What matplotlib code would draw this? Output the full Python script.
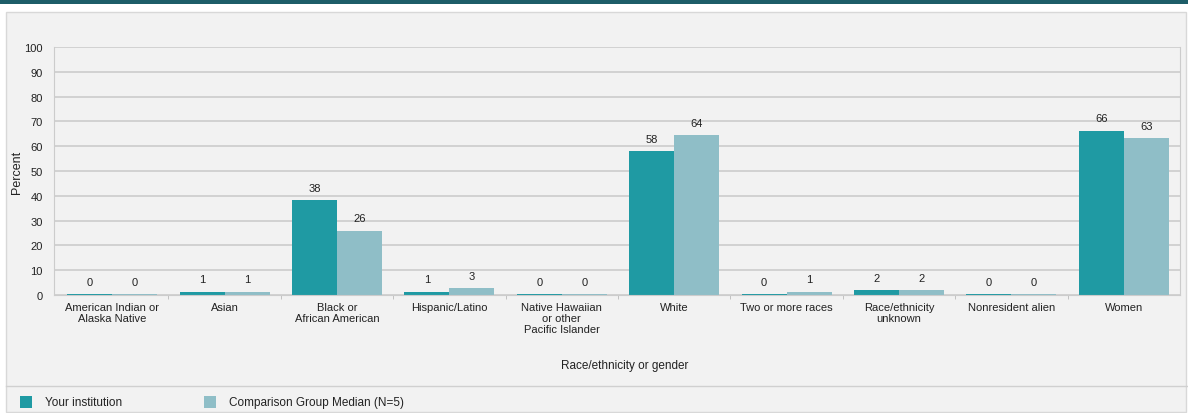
import numpy as np
import matplotlib.pyplot as plt
from matplotlib.patches import Rectangle

plt.rcParams['font.family'] = ['Liberation Sans', 'DejaVu Sans']

# data (bar heights estimated, labels are rounded values)
categories = ['American Indian or\nAlaska Native', 'Asian', 'Black or\nAfrican American',
              'Hispanic/Latino', 'Native Hawaiian\nor other\nPacific Islander', 'White',
              'Two or more races', 'Race/ethnicity\nunknown', 'Nonresident alien', 'Women']
institution = [0.4, 1.3, 38.3, 1.3, 0.4, 58.0, 0.4, 2.0, 0.4, 66.3]
comparison = [0.4, 1.3, 26.0, 2.8, 0.4, 64.4, 1.3, 2.0, 0.4, 63.2]
series_names = ['Your institution', 'Comparison Group Median (N=5)']

c_inst = '#1f9aa3'
c_comp = '#8fbec7'
txt = '#222222'

fig = plt.figure(figsize=(11.88, 4.14), dpi=100)
fig.patch.set_facecolor('white')

# page decorations: dark band on top, grey panel, legend strip
fig.add_artist(Rectangle((0, 1 - 5 / 414), 1, 5 / 414, transform=fig.transFigure,
                         facecolor='#1d5d68', edgecolor='none'))
fig.add_artist(Rectangle((6 / 1188, 1 / 414), 1180 / 1188, 400 / 414, transform=fig.transFigure,
                         facecolor='#f2f2f2', edgecolor='#d8d8d8', linewidth=1, zorder=-5))
fig.add_artist(plt.Line2D([6 / 1188, 1], [1 - 387 / 414] * 2, transform=fig.transFigure,
                          color='#d0d0d0', linewidth=1))

ax = fig.add_axes([54 / 1188, 1 - 296 / 414, 1126 / 1188, 248 / 414])
ax.set_facecolor('#f2f2f2')

x = np.arange(len(categories))
w = 0.4
b1 = ax.bar(x - w / 2, institution, w, color=c_inst, label=series_names[0])
b2 = ax.bar(x + w / 2, comparison, w, color=c_comp, label=series_names[1])

for bars, vals in ((b1, institution), (b2, comparison)):
    for r, v in zip(bars, vals):
        ax.text(r.get_x() + r.get_width() / 2, v + 3, f'{round(v):d}',
                ha='center', va='bottom', fontsize=8, color=txt)

ax.set_xlim(-0.518, 9.5)
ax.set_ylim(0, 100)
ax.set_yticks(range(0, 101, 10))
ax.yaxis.grid(True, color='#cccccc', linewidth=1.2)
ax.set_axisbelow(True)

ax.set_xticks(x)
ax.set_xticklabels(categories, fontsize=8, color=txt, linespacing=1.1)
ax.set_xticks(np.arange(0.5, 9, 1), minor=True)
ax.tick_params(axis='x', which='major', length=0, pad=5)
ax.tick_params(axis='x', which='minor', length=3, color='#bbbbbb')
ax.tick_params(axis='y', length=0, labelsize=8, labelcolor=txt, pad=8)

ax.spines['top'].set_visible(False)
ax.spines['left'].set_color('#cccccc')
ax.spines['right'].set_color('#cccccc')
ax.spines['bottom'].set_color('#cccccc')

ax.set_ylabel('Percent', fontsize=9, color=txt)
ax.yaxis.set_label_coords(-0.0275, 0.5)
fig.text(625 / 1188, 1 - 366 / 414, 'Race/ethnicity or gender', ha='center', va='center',
         fontsize=8.5, color=txt)

# legend at the bottom strip
y_leg = 1 - 403 / 414
for x0, col, name in ((20, c_inst, series_names[0]), (204, c_comp, series_names[1])):
    fig.add_artist(Rectangle((x0 / 1188, y_leg - 6 / 414), 12 / 1188, 12 / 414,
                             transform=fig.transFigure, facecolor=col, edgecolor='none'))
    fig.text((x0 + 25) / 1188, y_leg, name, ha='left', va='center', fontsize=8.5, color=txt)

fig.savefig('out.png', dpi=100, facecolor=fig.get_facecolor())
